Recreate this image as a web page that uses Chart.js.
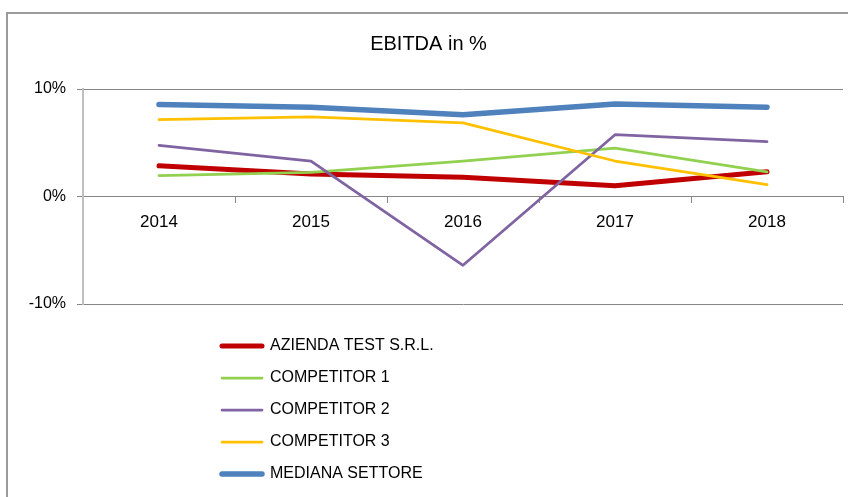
<!DOCTYPE html>
<html>
<head>
<meta charset="utf-8">
<script src="https://cdn.jsdelivr.net/npm/chart.js@4"></script>
<style>
    body { margin: 0; background: #fff; }
    #wrap { position: relative; width: 848px; height: 497px; overflow: hidden; }
    #frame { position: absolute; left: 6px; top: 12px; width: 900px; height: 600px;
             border-left: 2px solid #9a9a9a; border-top: 2px solid #9a9a9a; }
    #myChart { position: absolute; left: 0; top: 0; }
</style>
</head>
<body>
<div id="wrap">
    <div id="frame"></div>
    <canvas id="myChart" width="848" height="497"></canvas>
</div>
<script>
    const years = ['2014', '2015', '2016', '2017', '2018']

    const seriesNames = [
        'AZIENDA TEST S.R.L.',
        'COMPETITOR 1',
        'COMPETITOR 2',
        'COMPETITOR 3',
        'MEDIANA SETTORE',
    ]

    // EBITDA in %
    const aziendaTest = [2.85, 2.1, 1.8, 1.0, 2.3]
    const competitor1 = [1.95, 2.25, 3.3, 4.5, 2.3]
    const competitor2 = [4.75, 3.3, -6.4, 5.75, 5.1]
    const competitor3 = [7.15, 7.4, 6.85, 3.3, 1.1]
    const medianaSettore = [8.55, 8.3, 7.6, 8.6, 8.3]

    const yTicks = [-10, 0, 10]

    const seriesValues = [aziendaTest, competitor1, competitor2, competitor3, medianaSettore]
    const seriesColors = ['#c00000', '#92d050', '#8064a2', '#ffc000', '#4f81bd']
    const seriesWidths = [5, 2.75, 2.75, 2.75, 5.5]

    Chart.defaults.font.family = "'Liberation Sans', Arial, sans-serif"
    Chart.defaults.color = '#000'

    const datasets = seriesNames.map((name, i) => ({
        label: name,
        data: seriesValues[i],
        borderColor: seriesColors[i],
        backgroundColor: seriesColors[i],
        borderWidth: seriesWidths[i],
        borderCapStyle: 'round',
        borderJoinStyle: 'round',
        pointRadius: 0,
        tension: 0,
        fill: false,
        // excel paints later series on top
        order: seriesNames.length - i,
    }))

    // put the legend block below the plot, one entry per row
    const legendPlacer = {
        id: 'legendPlacer',
        afterLayout(chart) {
            const lg = chart.legend
            if (!lg) return
            lg.left = 206
            lg.top = 322
            lg.right = lg.left + lg.width
            lg.bottom = 600 // roomy, so all five rows stay in one column
        }
    }

    const defaultLabels = Chart.defaults.plugins.legend.labels.generateLabels

    new Chart(document.getElementById('myChart'), {
        type: 'line',
        data: { labels: years, datasets: datasets },
        plugins: [legendPlacer],
        options: {
            responsive: false,
            animation: false,
            events: [],
            layout: { padding: { left: 14, right: 5, top: 0, bottom: 193 } },
            scales: {
                x: {
                    position: { y: 0 },
                    offset: true,
                    grid: { offset: true, drawOnChartArea: false, drawTicks: true, tickLength: 6, color: '#868686' },
                    border: { color: '#868686', width: 1 },
                    ticks: { font: { size: 17 }, color: '#000', padding: 10, maxRotation: 0 },
                    afterFit: s => { s.height = 0 },
                },
                y: {
                    min: yTicks[0],
                    max: yTicks[yTicks.length - 1],
                    afterBuildTicks: s => { s.ticks = yTicks.map(v => ({ value: v })) },
                    ticks: { callback: v => v + '%', font: { size: 16 }, color: '#000', padding: 11 },
                    grid: { color: '#868686', lineWidth: 1, drawTicks: true, tickLength: 6 },
                    border: { color: '#bfbfbf', width: 2 },
                    afterFit: s => { s.width = 69 },
                },
            },
            plugins: {
                title: {
                    display: true,
                    text: 'EBITDA in %',
                    color: '#000',
                    font: { size: 20, weight: 'normal' },
                    padding: { top: 32, bottom: 33 },
                },
                legend: {
                    position: 'chartArea',
                    align: 'start',
                    labels: {
                        usePointStyle: true,
                        pointStyle: 'line',
                        pointStyleWidth: 40,
                        padding: 16,
                        color: '#000',
                        font: { size: 16 },
                        generateLabels: chart => defaultLabels(chart).map(it => ({ ...it, lineCap: 'round' })),
                        sort: (a, b) => a.datasetIndex - b.datasetIndex,
                    },
                },
                tooltip: { enabled: false },
            },
        },
    })
</script>
</body>
</html>
